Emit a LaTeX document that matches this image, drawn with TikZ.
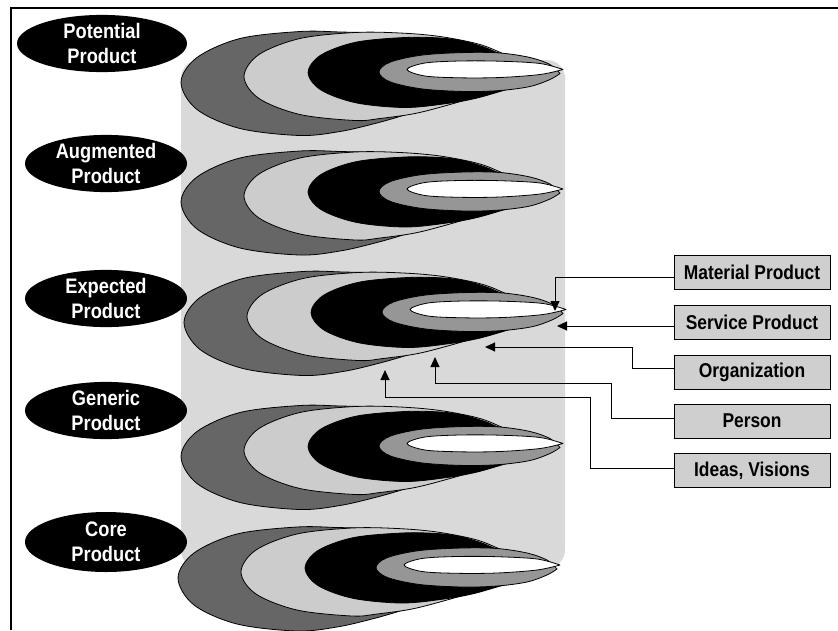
\documentclass[tikz,border=0pt]{standalone}
\usepackage{fontspec}
\setmainfont{Liberation Sans}[FakeStretch=0.87]
\usetikzlibrary{arrows.meta,shapes.geometric}

\definecolor{gDark}{HTML}{666666}
\definecolor{gLight}{HTML}{CCCCCC}
\definecolor{gMid}{HTML}{969696}
\definecolor{bgGray}{HTML}{D9D9D9}
\definecolor{boxFill}{HTML}{CFCFCF}

% the five nested layers of one level, all running into a common tip on the right
\newcommand\layerstack{%
  \filldraw[layer,fill=gDark] plot[smooth,tension=0.55] coordinates {
    (556,4) (500,-14) (440,-30) (380,-36) (340,-37.5) (300,-38) (240,-31) (197,-12)
    (181,13) (197,40) (240,59) (300,66) (340,62) (375,54) (403,46) (430,37) (460,28)
    (500,17) (556,4)} -- cycle;
  \filldraw[layer,fill=gLight] plot[smooth,tension=0.55] coordinates {
    (556,4) (510,-13) (480,-25) (440,-33) (400,-36.5) (355,-37) (300,-31) (259,-15)
    (244,7) (259,29) (300,45) (355,51) (380,49) (415,44) (450,35) (480,26) (520,14)
    (556,4)} -- cycle;
  \filldraw[layer,fill=black] plot[smooth,tension=0.55] coordinates {
    (556,4) (530,-8) (500,-16) (485,-22) (463,-28.5) (440,-31.5) (405,-32) (356,-27.3)
    (321,-14.5) (308,3) (321,20.5) (356,33.3) (405,38) (447,34) (475,29) (500,22)
    (530,13) (556,4)} -- cycle;
  \filldraw[layer,fill=gMid] plot[smooth,tension=0.55] coordinates {
    (560,4) (550,-5) (530,-12) (500,-16.5) (465,-17) (422,-14.4) (390,-7.3) (379,2.5)
    (390,12.3) (422,19.4) (465,22) (500,21) (530,17) (550,10) (560,4)} -- cycle;
  \filldraw[layer,fill=white] plot[smooth,tension=0.55] coordinates {
    (563,0) (540,-6) (500,-8.3) (460,-8.5) (425,-6.5) (407,0) (425,6.5) (460,8.3)
    (500,8) (540,5) (563,0)} -- cycle;}

\begin{document}
\begin{tikzpicture}[x=1pt,y=-1pt,
  layer/.style={draw=black,line width=0.8pt,line join=round},
  lab/.style={ellipse,fill=black,text=white,inner sep=0pt,align=center,
    minimum width=162pt,minimum height=57pt,
    font=\fontsize{21}{25}\selectfont\bfseries},
  kind/.style={rectangle,draw=black,fill=boxFill,line width=0.9pt,
    minimum width=156pt,minimum height=34pt,inner sep=0pt,
    font=\fontsize{20}{22}\selectfont\bfseries},
  conn/.style={draw=black,line width=1pt,-{Triangle[length=10pt,width=9pt]}}]

\useasboundingbox (0,0) rectangle (838,630);

% frame
\draw[line width=1.2pt] (11,630) -- (11,8) -- (838,8);

% cylinder body behind the levels
\fill[bgGray,rounded corners=18pt] (181,60) rectangle (565,568);

% the five levels
\begin{scope}[shift={(0,69.5)}]\layerstack\end{scope}
\begin{scope}[shift={(0,189)}]\layerstack\end{scope}
\begin{scope}[shift={(3,309.5)}]\layerstack\end{scope}
\begin{scope}[shift={(0,443.5)}]\layerstack\end{scope}
\begin{scope}[shift={(-3,565)}]\layerstack\end{scope}

% level labels
\node[lab,minimum width=170pt,minimum height=55pt] (pot) at (102,43.5) {Potential\\Product};
\node[lab] (aug) at (106,163.5) {Augmented\\Product};
\node[lab] (exp) at (106,298.5) {Expected\\Product};
\node[lab,minimum height=55pt] (gen) at (106,410.5) {Generic\\Product};
\node[lab,minimum height=60pt] (core) at (106,542) {Core\\Product};

% component boxes
\node[kind] (mat) at (752,272.5) {Material Product};
\node[kind] (ser) at (752,322) {Service Product};
\node[kind] (org) at (752,372) {Organization};
\node[kind] (per) at (752,421) {Person};
\node[kind] (ide) at (752,470.5) {Ideas, Visions};

% bends and arrow ends
\coordinate (mk) at (555,277);
\coordinate (mt) at (555,311);
\coordinate (st) at (557,326);
\coordinate (ok1) at (632,368);
\coordinate (ok2) at (632,347);
\coordinate (ot) at (485,347);
\coordinate (pk1) at (611,418);
\coordinate (pk2) at (611,383);
\coordinate (pk3) at (435,383);
\coordinate (pt) at (435,357);
\coordinate (ik1) at (590,468);
\coordinate (ik2) at (590,397);
\coordinate (ik3) at (385,397);
\coordinate (it) at (385,370);

\draw[conn] (mat.west |- mk) -- (mk) -- (mt);
\draw[conn] (ser.west |- st) -- (st);
\draw[conn] (org.west |- ok1) -- (ok1) -- (ok2) -- (ot);
\draw[conn] (per.west |- pk1) -- (pk1) -- (pk2) -- (pk3) -- (pt);
\draw[conn] (ide.west |- ik1) -- (ik1) -- (ik2) -- (ik3) -- (it);
\end{tikzpicture}
\end{document}
